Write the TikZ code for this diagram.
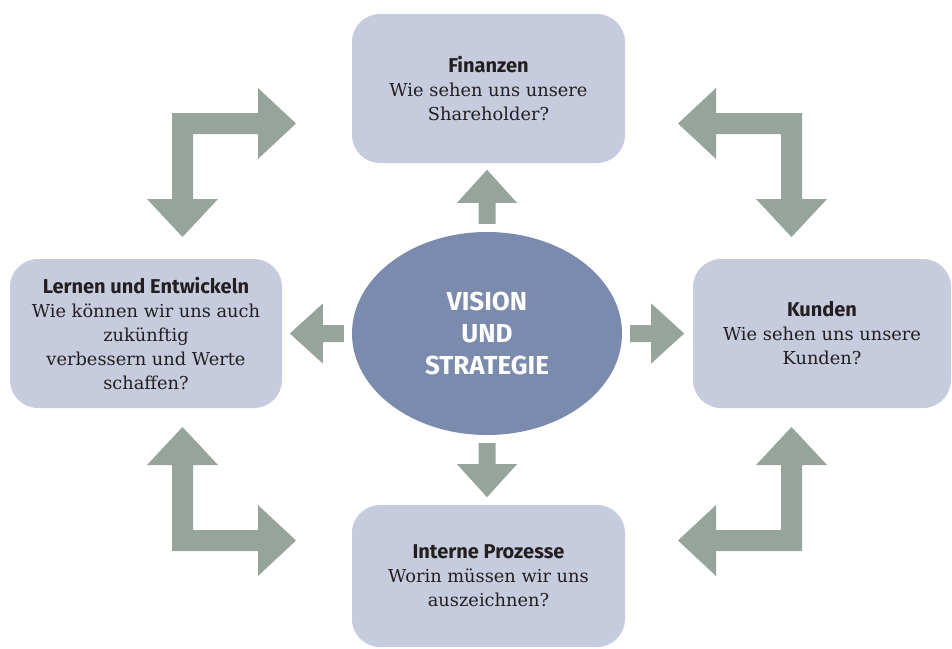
\documentclass[tikz,border=0pt]{standalone}
\usepackage{fontspec}
\setmainfont{DejaVu Serif}
\newfontfamily\titelfont{Fira Sans}
\usetikzlibrary{shapes.geometric}

\definecolor{boxfill}{RGB}{199,203,222}
\definecolor{visfill}{RGB}{123,139,174}
\definecolor{pfeilgrau}{RGB}{150,164,155}
\definecolor{schrift}{RGB}{35,31,32}

\newcommand{\titel}[1]{{\titelfont\bfseries\fontsize{20}{24}\selectfont #1}}

\begin{document}
\begin{tikzpicture}[x=1pt,y=-1pt,
  feld/.style={rectangle,rounded corners=28pt,fill=boxfill,minimum height=149pt,
    align=center,text=schrift,font=\fontsize{17.8}{24}\selectfont},
  pfeil/.style={fill=pfeilgrau}]
\useasboundingbox (0,0) rectangle (952,648);

% Perspektiven
\path (488.5,88.5) node[feld,minimum width=273pt] (fin)
  {\titel{Finanzen}\\Wie sehen uns unsere\\Shareholder?};
\path (146,333.5) node[feld,minimum width=272pt] (lern)
  {\titel{Lernen und Entwickeln}\\Wie können wir uns auch\\zukünftig\\verbessern und Werte\\schaffen?};
\path (822,333.5) node[feld,minimum width=258pt] (kund)
  {\titel{Kunden}\\Wie sehen uns unsere\\Kunden?};
\path (488.5,576) node[feld,minimum width=273pt,minimum height=142pt] (proz)
  {\titel{Interne Prozesse}\\Worin müssen wir uns\\auszeichnen?};

% Mitte
\path (487,333.5) node[ellipse,fill=visfill,minimum width=270pt,minimum height=203pt,
  align=center,text=white,font=\titelfont\bfseries\fontsize{26}{32}\selectfont] (vis)
  {VISION\\UND\\STRATEGIE};

% kleine Pfeile
\foreach \a/\r in {west/180,east/0,north/90,south/-90}
  \fill[pfeil,shift={(vis.\a)},rotate=\r] (8,-8.5) -- (29,-8.5) -- (29,-30) -- (62,0)
    -- (29,30) -- (29,8.5) -- (8,8.5) -- cycle;

% Winkelpfeile
\coordinate (mitte) at (487,332);
\foreach \sx/\sy in {1/1,-1/1,1/-1,-1/-1}
  \fill[pfeil,shift={(mitte)},xscale=\sx,yscale=\sy] (-315,-219) -- (-229,-219)
    -- (-229,-244) -- (-191,-208.5) -- (-229,-173) -- (-229,-198) -- (-294,-198)
    -- (-294,-133) -- (-269,-133) -- (-304.5,-95) -- (-340,-133) -- (-315,-133) -- cycle;
\end{tikzpicture}
\end{document}
